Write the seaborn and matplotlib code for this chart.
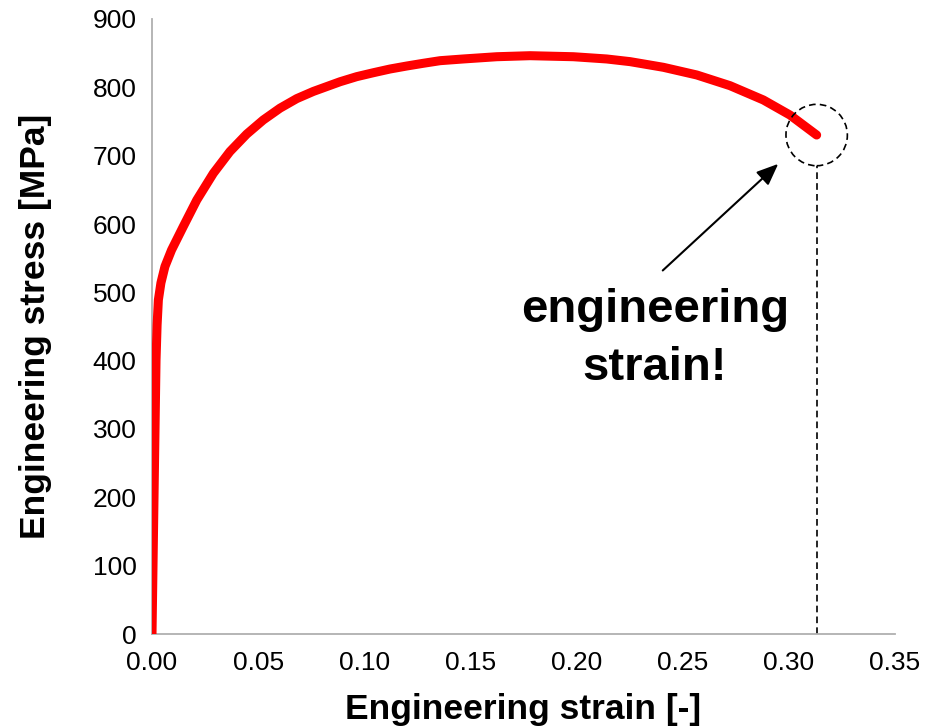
import numpy as np
import pandas as pd
import matplotlib
matplotlib.use("Agg")
import matplotlib.pyplot as plt
from matplotlib.patches import Ellipse
import seaborn as sns

# Tensile test: engineering stress vs engineering strain
strain = [0.0, 0.0019, 0.0024, 0.0030, 0.0042, 0.0061, 0.0092, 0.0147,
          0.0211, 0.0289, 0.0367, 0.0446, 0.0524, 0.0603, 0.0682, 0.0760,
          0.0886, 0.0964, 0.1043, 0.1121, 0.1200, 0.1278,
          0.1357, 0.1466, 0.1624, 0.1781, 0.1985, 0.2142, 0.2252, 0.2409,
          0.2566, 0.2723, 0.2880, 0.3005, 0.3131]
stress = [0.0, 401.0, 452.2, 488.8, 513.7, 537.8, 561.9, 596.1,
          635.1, 674.2, 706.0, 731.5, 752.2, 769.5, 783.5, 794.0,
          808.2, 815.6, 821.4, 826.8, 831.2, 835.2,
          839.0, 841.5, 844.8, 846.3, 844.8, 841.5, 837.6, 829.3,
          818.1, 802.4, 781.5, 759.5, 730.2]

x_ticks = [0.00, 0.05, 0.10, 0.15, 0.20, 0.25, 0.30, 0.35]
y_ticks = [0, 100, 200, 300, 400, 500, 600, 700, 800, 900]
note_lines = ["engineering", "strain!"]

df = pd.DataFrame({"strain": strain, "stress": stress})

sns.set_style("white")
plt.rcParams["font.family"] = ["Liberation Sans", "DejaVu Sans"]
plt.rcParams["text.color"] = "black"
plt.rcParams["axes.labelcolor"] = "black"

axis_gray = "#b0b0b0"

fig = plt.figure(figsize=(9.34, 7.28), dpi=100)
ax = fig.add_axes([152 / 934, 1 - 634 / 728, (895 - 152) / 934, (634 - 19) / 728])

sns.lineplot(data=df, x="strain", y="stress", sort=False, ax=ax,
             color="#ff0000", linewidth=6.5, solid_capstyle="round",
             solid_joinstyle="round", zorder=3)

ax.set_xlim(0, 0.35)
ax.set_ylim(0, 900)
ax.set_xticks(x_ticks)
ax.set_yticks(y_ticks)
ax.set_xticklabels([f"{v:.2f}" for v in x_ticks])
ax.set_yticklabels([str(v) for v in y_ticks])

for side in ("top", "right"):
    ax.spines[side].set_visible(False)
for side in ("left", "bottom"):
    ax.spines[side].set_color(axis_gray)
    ax.spines[side].set_linewidth(1.3)

ax.tick_params(axis="both", which="major", direction="out", length=6,
               width=1.2, color=axis_gray, labelsize=19, labelcolor="black")
ax.tick_params(axis="x", pad=6)
ax.tick_params(axis="y", pad=5)

ax.set_xlabel("Engineering strain [-]", fontsize=25.5, fontweight="bold", labelpad=13)
ax.set_ylabel("Engineering stress [MPa]", fontsize=25.5, fontweight="bold", labelpad=29)

# Fracture point: dashed circle and dashed drop line to the strain axis
end_x, end_y = strain[-1], stress[-1]
r_px = 30.7
px_per_x = (895 - 152) / 0.35
px_per_y = (634 - 19) / 900
circ = Ellipse((end_x, end_y), width=2 * r_px / px_per_x, height=2 * r_px / px_per_y,
               fill=False, edgecolor="black", linewidth=1.2,
               linestyle=(0, (4, 2.5)), zorder=4, clip_on=False)
ax.add_patch(circ)
ax.plot([end_x, end_x], [0, end_y - r_px / px_per_y], color="black",
        linewidth=1.2, linestyle=(0, (4, 2.5)), zorder=2, clip_on=False)

# Arrow pointing at the fracture point
ax.annotate("", xy=(0.2950, 688), xytext=(0.2406, 532),
            arrowprops=dict(arrowstyle="-|>,head_length=0.6,head_width=0.25",
                            mutation_scale=22, lw=1.5, color="black",
                            shrinkA=0, shrinkB=0))

ax.text(0.2369, 456.5, note_lines[0], fontsize=34, fontweight="bold",
        ha="center", va="baseline")
ax.text(0.2369, 371.5, note_lines[1], fontsize=34, fontweight="bold",
        ha="center", va="baseline")

fig.savefig("out.png", dpi=100)
